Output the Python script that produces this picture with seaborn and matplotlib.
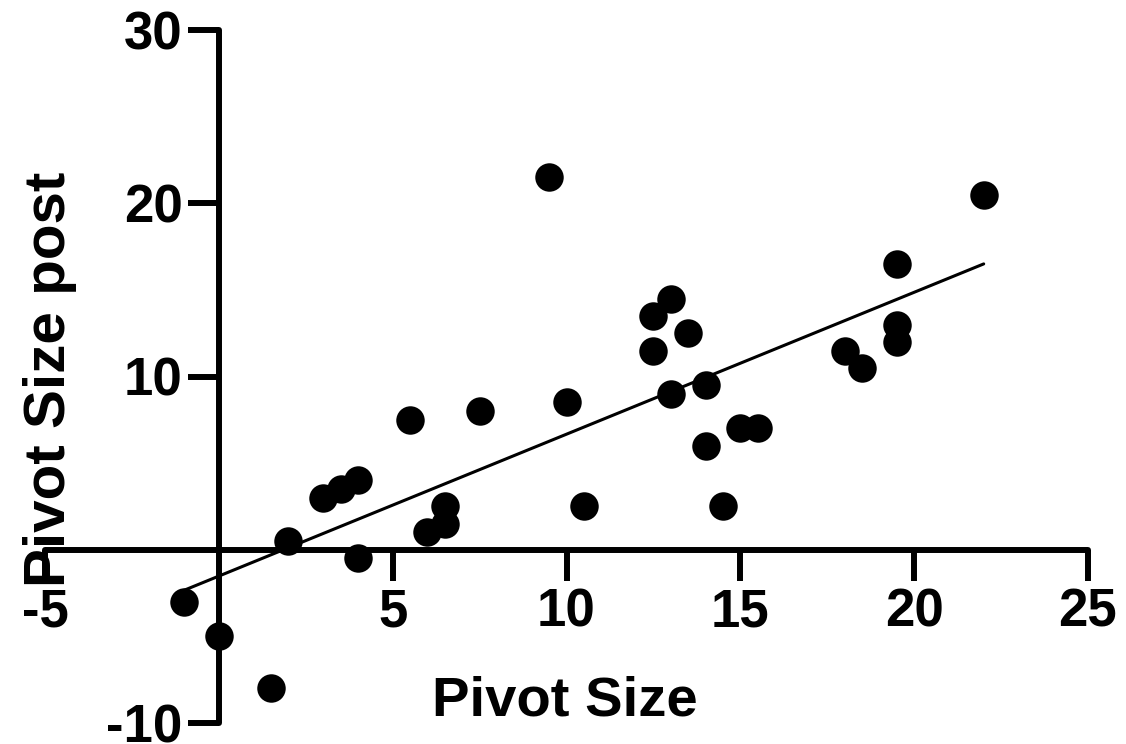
import matplotlib
matplotlib.use("Agg")
import matplotlib.pyplot as plt
import seaborn as sns
import pandas as pd

pivot_size = [-1, 0, 1.5, 2, 3, 3.5, 4, 4, 5.5, 6, 6.5, 6.5, 7.5, 9.5, 10, 10.5,
              12.5, 12.5, 13, 13, 13.5, 14, 14, 14.5, 15, 15.5, 18, 18.5,
              19.5, 19.5, 19.5, 22]
pivot_post = [-3, -5, -8, 0.5, 3, 3.5, 4, -0.5, 7.5, 1, 2.5, 1.5, 8, 21.5, 8.5, 2.5,
              13.5, 11.5, 14.5, 9, 12.5, 9.5, 6, 2.5, 7, 7, 11.5, 10.5,
              16.5, 13, 12, 20.5]
x_ticks = [-5, 5, 10, 15, 20, 25]
y_ticks = [-10, 10, 20, 30]

df = pd.DataFrame({"Pivot Size": pivot_size, "Pivot Size post": pivot_post})

sns.set_style("white")
plt.rcParams['font.family'] = ['Liberation Sans', 'DejaVu Sans']
plt.rcParams['font.weight'] = 'bold'
plt.rcParams['text.color'] = 'black'
plt.rcParams['xtick.color'] = 'black'
plt.rcParams['ytick.color'] = 'black'
plt.rcParams['axes.labelcolor'] = 'black'

W, H = 1126, 744
fig = plt.figure(figsize=(W / 100, H / 100), dpi=100)
left, right, top, bottom = 45, 1088, 30, 723
ax = fig.add_axes([left / W, 1 - bottom / H, (right - left) / W, (bottom - top) / H])

sns.regplot(data=df, x="Pivot Size", y="Pivot Size post", ax=ax, ci=None,
            color="black",
            scatter_kws=dict(s=420, linewidths=0, alpha=1, zorder=3, clip_on=False),
            line_kws=dict(lw=2.2, zorder=2))

ax.set_xlim(-5, 25)
ax.set_ylim(-10, 30)
ax.set_xticks(x_ticks)
ax.set_yticks(y_ticks)
ax.set_xticklabels([str(t) for t in x_ticks])
ax.set_yticklabels([str(t) for t in y_ticks])

for s in ["top", "right"]:
    ax.spines[s].set_visible(False)
ax.spines["left"].set_position(("data", 0))
ax.spines["bottom"].set_position(("data", 0))
for s in ["left", "bottom"]:
    ax.spines[s].set_linewidth(4.3)
    ax.spines[s].set_color("black")
    ax.spines[s].set_capstyle("round")
ax.spines["left"].set_bounds(-10, 30)
ax.spines["bottom"].set_bounds(-5, 25)

ax.tick_params(axis="both", which="major", length=22, width=4.3, color="black",
               labelcolor="black", labelsize=38, direction="out", left=True, bottom=True)
ax.tick_params(axis="x", pad=5)
ax.tick_params(axis="y", pad=4)
for lab in ax.get_xticklabels() + ax.get_yticklabels():
    lab.set_fontweight("bold")

ax.set_xlabel("")
ax.set_ylabel("")
fig.text(565 / W, 1 - 715 / H, "Pivot Size", ha="center", va="baseline",
         fontsize=40.5, fontweight="bold", color="black")
fig.text(50 / W, 1 - 379 / H, "Pivot Size post", ha="center", va="center",
         rotation=90, fontsize=42, fontweight="bold", color="black")

ax.patch.set_alpha(0)
fig.savefig("out.png", dpi=100)
